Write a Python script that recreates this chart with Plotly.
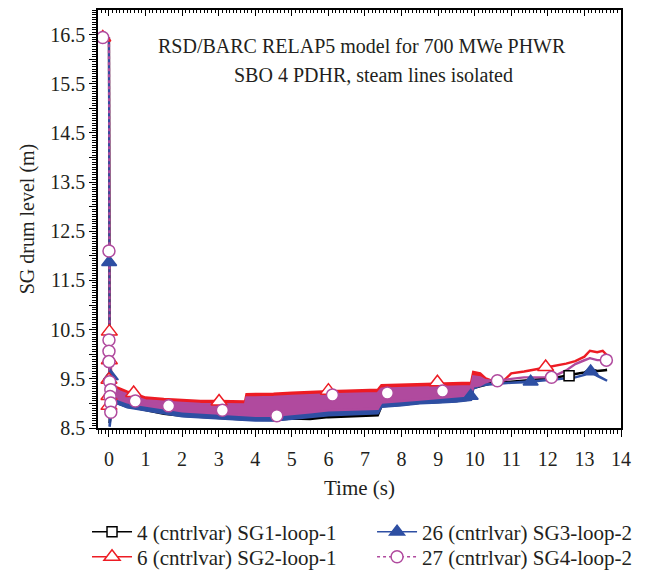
import plotly.graph_objects as go

# ---------------------------------------------------------------
# SG drum level, RELAP5 700 MWe PHWR, SBO with 4 PDHR
# Each series oscillates rapidly up to t ~ 10 s, so that part is
# stored as an upper/lower envelope; after that it is a single line.
# The first two grid points are the initial level before the drop.
# ---------------------------------------------------------------

# shared time grid for the oscillating part (s)
time_band = [-0.17, 0.0, 0.02, 0.06, 0.12, 0.2, 0.3, 0.5, 0.7, 1.0, 1.5, 2.0,
             2.5, 3.0, 3.5, 3.72, 3.76, 4.0, 4.5, 5.0, 5.5, 6.0, 6.5, 7.0,
             7.35, 7.45, 8.0, 8.5, 9.0, 9.5, 9.9, 9.96, 10.15, 10.3]

# time grid for the settled tail (s)
time_tail = [10.45, 10.8, 11.0, 11.35, 11.8, 12.1, 12.5, 12.75, 13.0, 13.15,
             13.35, 13.5, 13.62]

# 4 (cntrlvar) SG1-loop-1
sg1_hi = [16.44, 16.42, 9.6, 9.35, 9.2, 9.18, 9.15, 9.1, 9.07, 9.03, 8.98, 8.92,
          8.89, 8.87, 8.86, 8.85, 8.84, 8.83, 8.83, 8.86, 8.9, 8.94, 8.95, 8.96,
          8.97, 9.1, 9.13, 9.16, 9.19, 9.22, 9.25, 9.42, 9.44, 9.44]
sg1_lo = [16.44, 16.42, 8.6, 8.82, 8.96, 9.01, 8.99, 8.93, 8.91, 8.87, 8.79, 8.75,
          8.72, 8.7, 8.68, 8.67, 8.67, 8.66, 8.66, 8.69, 8.68, 8.72, 8.74, 8.75,
          8.76, 8.94, 8.97, 9.01, 9.03, 9.05, 9.08, 9.31, 9.35, 9.38]
sg1_tail = [9.41, 9.43, 9.44, 9.46, 9.49, 9.51, 9.56, 9.6, 9.63, 9.7, 9.66,
            9.67, 9.68]

# 6 (cntrlvar) SG2-loop-1
sg2_hi = [16.44, 16.42, 10.5, 9.55, 9.4, 9.33, 9.3, 9.24, 9.2, 9.12, 9.09, 9.07,
          9.05, 9.05, 9.04, 9.04, 9.19, 9.19, 9.2, 9.22, 9.24, 9.25, 9.26, 9.27,
          9.28, 9.37, 9.38, 9.39, 9.41, 9.42, 9.42, 9.64, 9.61, 9.51]
sg2_lo = [16.44, 16.42, 8.85, 9.0, 9.1, 9.12, 9.1, 9.05, 9.02, 8.97, 8.92, 8.86,
          8.83, 8.81, 8.8, 8.79, 8.78, 8.77, 8.77, 8.8, 8.84, 8.88, 8.89, 8.9,
          8.91, 9.04, 9.07, 9.1, 9.13, 9.16, 9.19, 9.4, 9.42, 9.46]
sg2_tail = [9.47, 9.47, 9.61, 9.65, 9.71, 9.76, 9.81, 9.86, 9.95, 10.07, 10.04,
            10.07, 9.98]

# 26 (cntrlvar) SG3-loop-2
sg3_hi = [16.44, 16.42, 9.6, 9.5, 9.25, 9.2, 9.15, 9.1, 9.06, 9.02, 8.97, 8.91,
          8.88, 8.86, 8.85, 8.84, 8.83, 8.82, 8.82, 8.85, 8.89, 8.93, 8.94, 8.95,
          8.96, 9.09, 9.12, 9.15, 9.18, 9.21, 9.24, 9.38, 9.4, 9.4]
sg3_lo = [16.44, 16.42, 8.53, 8.8, 8.95, 9.0, 8.98, 8.92, 8.9, 8.86, 8.8, 8.74,
          8.71, 8.69, 8.67, 8.66, 8.66, 8.65, 8.65, 8.68, 8.72, 8.76, 8.78, 8.79,
          8.8, 8.93, 8.96, 9.0, 9.02, 9.04, 9.07, 9.3, 9.36, 9.38]
sg3_tail = [9.39, 9.41, 9.42, 9.43, 9.46, 9.48, 9.51, 9.53, 9.58, 9.65, 9.56,
            9.5, 9.46]

# 27 (cntrlvar) SG4-loop-2
sg4_hi = [16.44, 16.42, 10.3, 9.5, 9.35, 9.28, 9.24, 9.18, 9.13, 9.06, 9.03, 9.01,
          8.99, 8.99, 8.98, 8.98, 9.12, 9.12, 9.13, 9.15, 9.17, 9.18, 9.19, 9.2,
          9.21, 9.3, 9.31, 9.32, 9.34, 9.35, 9.35, 9.55, 9.53, 9.47]
sg4_lo = [16.44, 16.42, 8.8, 8.97, 9.07, 9.1, 9.07, 9.02, 8.99, 8.95, 8.9, 8.84,
          8.81, 8.79, 8.78, 8.77, 8.76, 8.75, 8.75, 8.78, 8.82, 8.86, 8.87, 8.88,
          8.89, 9.02, 9.05, 9.08, 9.11, 9.14, 9.17, 9.35, 9.37, 9.43]
sg4_tail = [9.46, 9.47, 9.5, 9.53, 9.53, 9.53, 9.67, 9.8, 9.88, 9.92, 9.88,
            9.88, 9.88]

# plotted symbols (sampled output points)
sg1_mark_t = [12.58]
sg1_mark_v = [9.56]
sg2_mark_t = [-0.17, 0.01, 0.01, 0.0, 0.0, 0.0, 0.675, 3.01, 6.0, 8.98, 11.94]
sg2_mark_v = [16.44, 10.46, 9.88, 9.48, 9.15, 8.95, 9.21, 9.04, 9.26, 9.43, 9.74]
sg3_mark_t = [0.005, 0.05, 9.89, 11.53, 13.17]
sg3_mark_v = [11.87, 9.55, 9.15, 9.44, 9.65]
sg4_mark_t = [-0.17, 0.0, 0.0, 0.0, 0.0, 0.02, 0.05, 0.03, 0.05, 0.05, 0.72,
              1.63, 3.1, 4.59, 6.11, 7.61, 9.12, 10.62, 12.1, 13.6]
sg4_mark_v = [16.44, 12.1, 10.29, 10.06, 9.85, 9.44, 9.28, 9.14, 9.01, 8.82,
              9.05, 8.95, 8.86, 8.75, 9.17, 9.21, 9.25, 9.46, 9.53, 9.88]

x_ticks = list(range(0, 15))
y_ticks = [8.5 + 0.5 * i for i in range(17)]
y_ticktext = [f"{v:.1f}" if (v * 2) % 2 == 1 else "" for v in y_ticks]

FONT = "Liberation Serif"
TXT = "#231F20"

series = [
    # name, hi, lo, tail, marks t, marks v, colour, symbol, fill, size, dash,
    # legend box
    ("4 (cntrlvar) SG1-loop-1", sg1_hi, sg1_lo, sg1_tail, sg1_mark_t, sg1_mark_v,
     "#000000", "square", "white", 10, "solid", "legend"),
    ("26 (cntrlvar) SG3-loop-2", sg3_hi, sg3_lo, sg3_tail, sg3_mark_t, sg3_mark_v,
     "#2E4FA3", "triangle-up", "#2E4FA3", 13, "solid", "legend2"),
    ("6 (cntrlvar) SG2-loop-1", sg2_hi, sg2_lo, sg2_tail, sg2_mark_t, sg2_mark_v,
     "#ED1C24", "triangle-up", "white", 14, "solid", "legend3"),
    ("27 (cntrlvar) SG4-loop-2", sg4_hi, sg4_lo, sg4_tail, sg4_mark_t, sg4_mark_v,
     "#B04A9E", "circle", "white", 12, "dot", "legend4"),
]


def gapped(seq):
    """Interleave None so markers are drawn without joining segments."""
    out = []
    for s in seq:
        out += [s, None]
    return out


fig = go.Figure()

# oscillation envelopes and tails
for name, hi, lo, tail, mt, mv, col, *_ in series:
    xs = time_band[2:] + time_tail + time_tail[::-1] + time_band[:1:-1]
    ys = hi[2:] + tail + tail[::-1] + lo[:1:-1]
    fig.add_trace(go.Scatter(
        x=xs, y=ys, mode="lines", fill="toself", fillcolor=col,
        line=dict(color=col, width=2.4), showlegend=False, hoverinfo="skip"))

# initial level and the sudden drop
for name, hi, lo, tail, mt, mv, col, sym, mfill, msize, dash, lg in [
        series[0], series[2], series[1], series[3]]:
    fig.add_trace(go.Scatter(
        x=time_band[:3] + [time_band[2]], y=hi[:2] + [lo[2], hi[2]],
        mode="lines", line=dict(color=col, width=2.2, dash=dash),
        showlegend=False, hoverinfo="skip"))

# sampled symbols, which also carry the legend entries
for name, hi, lo, tail, mt, mv, col, sym, mfill, msize, dash, lg in series:
    fig.add_trace(go.Scatter(
        x=gapped(mt), y=gapped(mv), mode="lines+markers", name=name,
        connectgaps=False, legend=lg,
        line=dict(color=col, width=1.5, dash=dash),
        marker=dict(symbol=sym, size=msize, color=mfill,
                    line=dict(color=col, width=1.5))))

# top frame carries inward-pointing ticks
fig.add_trace(go.Scatter(x=[], y=[], xaxis="x2", showlegend=False))

fig.add_annotation(text="RSD/BARC RELAP5 model for 700 MWe PHWR",
                   xref="paper", yref="paper", x=0.505, y=0.945,
                   showarrow=False, font=dict(family=FONT, size=20, color=TXT))
fig.add_annotation(text="SBO 4 PDHR, steam lines isolated",
                   xref="paper", yref="paper", x=0.526, y=0.876,
                   showarrow=False, font=dict(family=FONT, size=20, color=TXT))

legend_style = dict(
    orientation="v", yanchor="middle", xanchor="left",
    font=dict(family=FONT, size=21, color=TXT),
    bgcolor="rgba(0,0,0,0)", itemwidth=40,
)
col1_x, col2_x = -0.021, 0.524
row1_y, row2_y = -0.249, -0.309

fig.update_layout(
    width=645, height=575,
    margin=dict(l=98, r=24, t=10, b=147, autoexpand=False),
    paper_bgcolor="white", plot_bgcolor="white",
    font=dict(family=FONT, size=20, color=TXT),
    xaxis=dict(
        range=[-0.3, 14], tickvals=x_ticks, showgrid=False, zeroline=False,
        showline=True, linecolor="black", linewidth=1.5, mirror=True,
        ticks="outside", ticklen=7, tickwidth=1.2, tickcolor="black",
        ticklabelstandoff=5, tickfont=dict(size=20), automargin=False,
        minor=dict(tick0=0, dtick=0.1, ticks="outside", ticklen=4,
                   tickwidth=1, tickcolor="black", showgrid=False),
        title=dict(text="Time (s)", standoff=12, font=dict(size=21)),
    ),
    xaxis2=dict(
        overlaying="x", side="top", anchor="y", range=[-0.3, 14],
        tickvals=x_ticks, showticklabels=False, showgrid=False,
        zeroline=False, showline=False, automargin=False,
        ticks="inside", ticklen=6, tickwidth=1.2, tickcolor="black",
        minor=dict(tick0=0, dtick=0.1, ticks="inside", ticklen=3,
                   tickwidth=1, tickcolor="black", showgrid=False),
    ),
    yaxis=dict(
        range=[8.5, 17.0], tickvals=y_ticks, ticktext=y_ticktext,
        showgrid=False, zeroline=False, tickfont=dict(size=20),
        showline=True, linecolor="black", linewidth=1.5, mirror=True,
        ticks="outside", ticklen=7, tickwidth=1.2, tickcolor="black",
        automargin=False,
        minor=dict(tick0=8.5, dtick=0.05, ticks="outside", ticklen=4,
                   tickwidth=1, tickcolor="black", showgrid=False),
        title=dict(text="SG drum level (m)", standoff=10, font=dict(size=20)),
    ),
    legend=dict(legend_style, x=col1_x, y=row1_y),
    legend2=dict(legend_style, x=col2_x, y=row1_y),
    legend3=dict(legend_style, x=col1_x, y=row2_y),
    legend4=dict(legend_style, x=col2_x, y=row2_y),
)

fig.write_html("out.html")
